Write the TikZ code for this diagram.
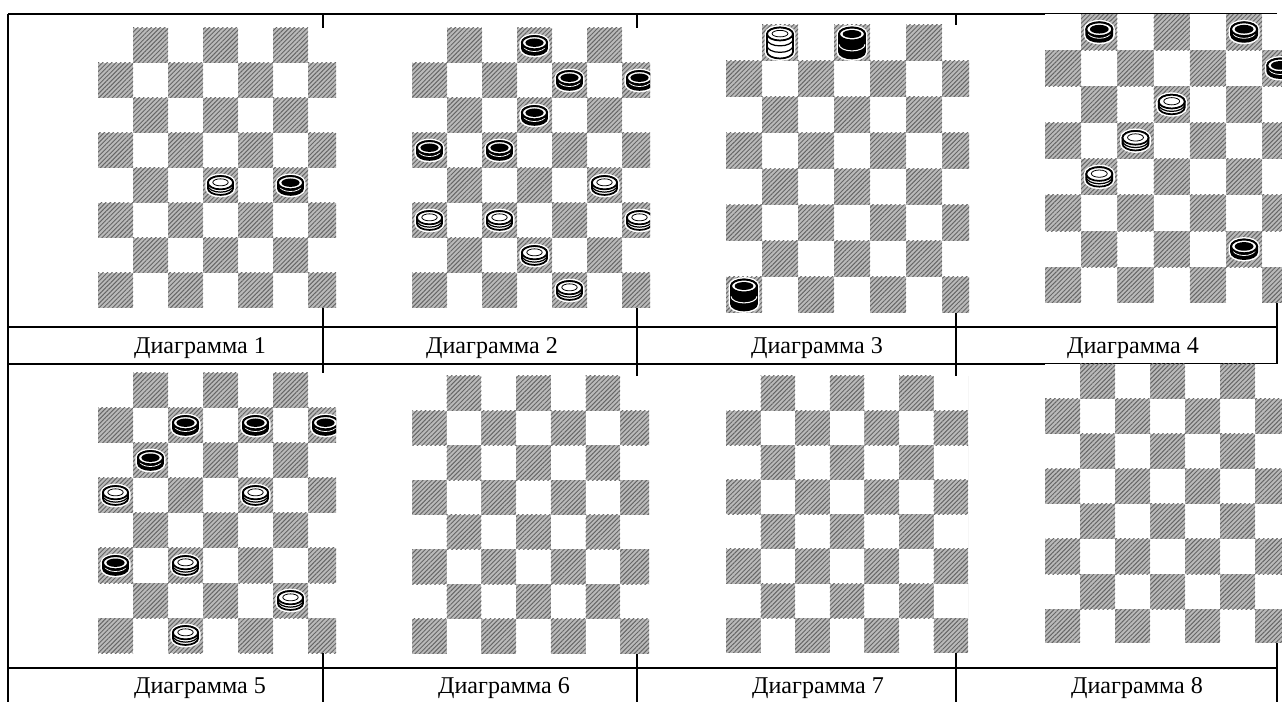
\documentclass[tikz,border=0pt]{standalone}
\usepackage{fontspec}
\setmainfont{Liberation Serif}
\usetikzlibrary{patterns.meta}

% outline of one man (top ellipse + body), in units of a square
\newcommand{\mansil}{(-.36,.08) arc[start angle=180,end angle=0,x radius=.36,y radius=.19]
  -- (.36,-.08) arc[start angle=0,end angle=-180,x radius=.36,y radius=.19] -- cycle}
\newcommand{\kingsil}{(-.36,.25) arc[start angle=180,end angle=0,x radius=.36,y radius=.18]
  -- (.36,-.25) arc[start angle=0,end angle=-180,x radius=.36,y radius=.18] -- cycle}

\tikzset{
  tabline/.style={line width=1.2pt, black},
  darksq/.style={preaction={fill=black!27},
    pattern={Lines[angle=45,distance=1.8pt,line width=0.55pt]}, pattern color=black!60},
  caption/.style={font=\fontsize{13.7}{16}\selectfont, inner sep=0pt},
  halo/.style={fill=white, draw=white, line width=2.8pt},
  wman/.pic={
    \path[halo] \mansil;
    \draw[fill=white, line width=1pt] \mansil;
    \draw[line width=.7pt] (-.36,0) arc[start angle=180,end angle=360,x radius=.36,y radius=.19];
    \draw[fill=white, line width=1pt] (0,.08) ellipse[x radius=.36,y radius=.19];
    \draw[fill=white, line width=.45pt] (0,.09) ellipse[x radius=.22,y radius=.1];
  },
  bman/.pic={
    \path[halo] \mansil;
    \draw[fill=black, line width=1pt] \mansil;
    \draw[white, line width=.45pt] (-.3,-.06) arc[start angle=200,end angle=340,x radius=.32,y radius=.17];
    \draw[fill=white, line width=1.1pt] (0,.08) ellipse[x radius=.36,y radius=.19];
    \fill[black] (0,.08) ellipse[x radius=.26,y radius=.12];
  },
  wking/.pic={
    \path[halo] \kingsil;
    \draw[fill=white, line width=1pt] \kingsil;
    \draw[line width=.7pt] (-.36,.1) arc[start angle=180,end angle=360,x radius=.36,y radius=.18];
    \draw[line width=.7pt] (-.36,-.08) arc[start angle=180,end angle=360,x radius=.36,y radius=.18];
    \draw[fill=white, line width=1pt] (0,.25) ellipse[x radius=.36,y radius=.18];
    \draw[fill=white, line width=.45pt] (0,.26) ellipse[x radius=.22,y radius=.09];
  },
  bking/.pic={
    \path[halo] \kingsil;
    \draw[fill=black, line width=1pt] \kingsil;
    \draw[white, line width=.6pt] (-.36,-.04) arc[start angle=180,end angle=360,x radius=.36,y radius=.18];
    \draw[fill=white, line width=1.1pt] (0,.25) ellipse[x radius=.36,y radius=.18];
    \fill[black] (0,.25) ellipse[x radius=.26,y radius=.11];
  }
}

% board: x0, y0, square, visible width, visible height, pieces
\newcommand{\board}[6]{%
  \begin{scope}[shift={(#1,#2)}]
    \def\sq{#3}
    \fill[white] (0,0) rectangle (#4,#5);
    \clip (0,0) rectangle (#4,#5);
    \foreach \r in {1,...,8} \foreach \c in {1,...,8} {
      \pgfmathtruncatemacro\odd{mod(\r+\c,2)}
      \ifnum\odd=1 \path[darksq] ({(\c-1)*#3},{(\r-1)*#3}) rectangle ++(#3,#3); \fi
    }
    #6
  \end{scope}}
\newcommand{\wm}[2]{\pic[scale=\sq, yscale=-1] at ({(#1-.5)*\sq},{(#2-.5)*\sq}) {wman};}
\newcommand{\bm}[2]{\pic[scale=\sq, yscale=-1] at ({(#1-.5)*\sq},{(#2-.5)*\sq}) {bman};}
\newcommand{\wk}[2]{\pic[scale=\sq, yscale=-1] at ({(#1-.5)*\sq},{(#2-.5)*\sq}) {wking};}
\newcommand{\bk}[2]{\pic[scale=\sq, yscale=-1] at ({(#1-.5)*\sq},{(#2-.5)*\sq}) {bking};}

\begin{document}
\begin{tikzpicture}[x=0.02cm, y=-0.02cm]
  \useasboundingbox (0,0) rectangle (1282,702);

  % table frame
  \draw[tabline] (8,14) -- (1045,14);
  \draw[tabline] (8,14) -- (8,702);
  \draw[tabline] (1277,14) -- (1277,702);
  \foreach \xx in {323,637,956}
    \draw[tabline] (\xx,14) -- (\xx,702);
  \draw[tabline] (8,327) -- (1277,327);
  \draw[tabline] (8,364) -- (1277,364);
  \draw[tabline] (8,668) -- (1277,668);

  % row 1
  \board{98}{28}{35}{238}{280}{\wm{4}{5} \bm{6}{5}}
  \board{412}{28}{35}{238}{280}{%
    \bm{4}{1} \bm{5}{2} \bm{7}{2} \bm{4}{3} \bm{1}{4} \bm{3}{4}
    \wm{6}{5} \wm{1}{6} \wm{3}{6} \wm{7}{6} \wm{4}{7} \wm{5}{8}}
  \board{726}{25}{36}{243}{288}{\wk{2}{1} \bk{4}{1} \bk{1}{8}}
  \board{1045}{14}{36.2}{237}{289}{%
    \bm{2}{1} \bm{6}{1} \bm{7}{2} \wm{4}{3} \wm{3}{4} \wm{2}{5} \bm{6}{7}}
  \draw[line width=0.6pt] (1045,13.5) -- (1277,13.5);

  % row 2
  \board{98}{373}{35}{238}{280}{%
    \bm{3}{2} \bm{5}{2} \bm{7}{2} \bm{2}{3} \wm{1}{4} \wm{5}{4}
    \bm{1}{6} \wm{3}{6} \wm{6}{7} \wm{3}{8}}
  \board{412}{376}{34.7}{237}{277}{}
  \board{726}{376}{34.6}{242}{277}{}
  \board{1045}{364}{35}{237}{278}{}

  % captions
  \node[caption] (cap1) at (200,348) {Диаграмма 1};
  \node[caption] (cap2) at (492,348) {Диаграмма 2};
  \node[caption] (cap3) at (817,348) {Диаграмма 3};
  \node[caption] (cap4) at (1133,348) {Диаграмма 4};
  \node[caption] (cap5) at (200,688) {Диаграмма 5};
  \node[caption] (cap6) at (504,688) {Диаграмма 6};
  \node[caption] (cap7) at (818,688) {Диаграмма 7};
  \node[caption] (cap8) at (1137,688) {Диаграмма 8};
\end{tikzpicture}
\end{document}
